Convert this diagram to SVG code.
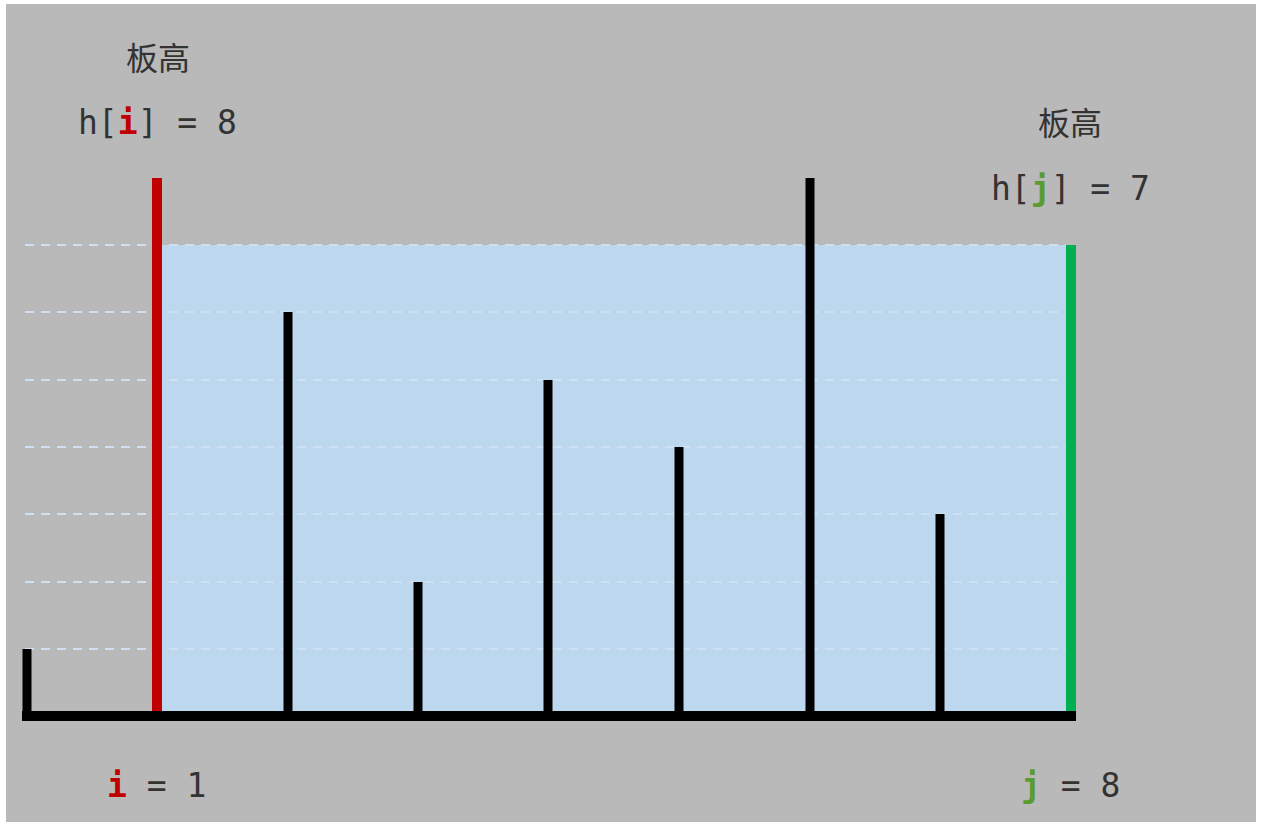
<svg xmlns="http://www.w3.org/2000/svg" width="1262" height="828" viewBox="0 0 1262 828">
<style>
.lbl{font-family:"Noto Sans CJK SC","Noto Sans CJK JP",sans-serif;font-size:32px;fill:#333333;text-anchor:middle}
.mono{font-family:"DejaVu Sans Mono","Liberation Mono",monospace;font-size:33px;fill:#333333}
.ri{fill:#c00000;font-weight:bold}
.gj{fill:#5b9b30;font-weight:bold}
.bar{stroke:#000000;stroke-width:9;fill:none}
.dash{stroke:#cfe0f3;stroke-width:2;stroke-dasharray:9 7;fill:none}
</style>
<rect x="0" y="0" width="1262" height="828" fill="#ffffff"/>
<rect x="6" y="4" width="1250" height="818" fill="#b9b9b9"/>
<g id="water"><rect x="161" y="245" width="906" height="467" fill="#bdd7ee"/></g>
<g id="gridlines">
<line class="dash" x1="25" y1="245" x2="1066" y2="245"/>
<line class="dash" x1="25" y1="312" x2="1066" y2="312"/>
<line class="dash" x1="25" y1="380" x2="1066" y2="380"/>
<line class="dash" x1="25" y1="447" x2="1066" y2="447"/>
<line class="dash" x1="25" y1="514" x2="1066" y2="514"/>
<line class="dash" x1="25" y1="582" x2="1066" y2="582"/>
<line class="dash" x1="25" y1="649" x2="1066" y2="649"/>
</g>
<g id="bars">
<line class="bar" x1="27" y1="649" x2="27" y2="716"/>
<line x1="157" y1="178" x2="157" y2="716" stroke="#c00000" stroke-width="10"/>
<line class="bar" x1="288" y1="312" x2="288" y2="716"/>
<line class="bar" x1="418" y1="582" x2="418" y2="716"/>
<line class="bar" x1="548" y1="380" x2="548" y2="716"/>
<line class="bar" x1="679" y1="447" x2="679" y2="716"/>
<line class="bar" x1="810" y1="178" x2="810" y2="716"/>
<line class="bar" x1="940" y1="514" x2="940" y2="716"/>
<line x1="1071" y1="245" x2="1071" y2="716" stroke="#00b050" stroke-width="10"/>
</g>
<g id="base"><line x1="22" y1="716" x2="1076" y2="716" stroke="#000000" stroke-width="10"/></g>
<g id="left-labels">
<text class="lbl" x="158" y="70">板高</text>
<text class="mono" x="78" y="134">h[<tspan class="ri">i</tspan>] = 8</text>
<text class="mono" x="107" y="797"><tspan class="ri">i</tspan> = 1</text>
</g>
<g id="right-labels">
<text class="lbl" x="1070" y="135">板高</text>
<text class="mono" x="991" y="200">h[<tspan class="gj">j</tspan>] = 7</text>
<text class="mono" x="1021" y="797"><tspan class="gj">j</tspan> = 8</text>
</g>
</svg>
